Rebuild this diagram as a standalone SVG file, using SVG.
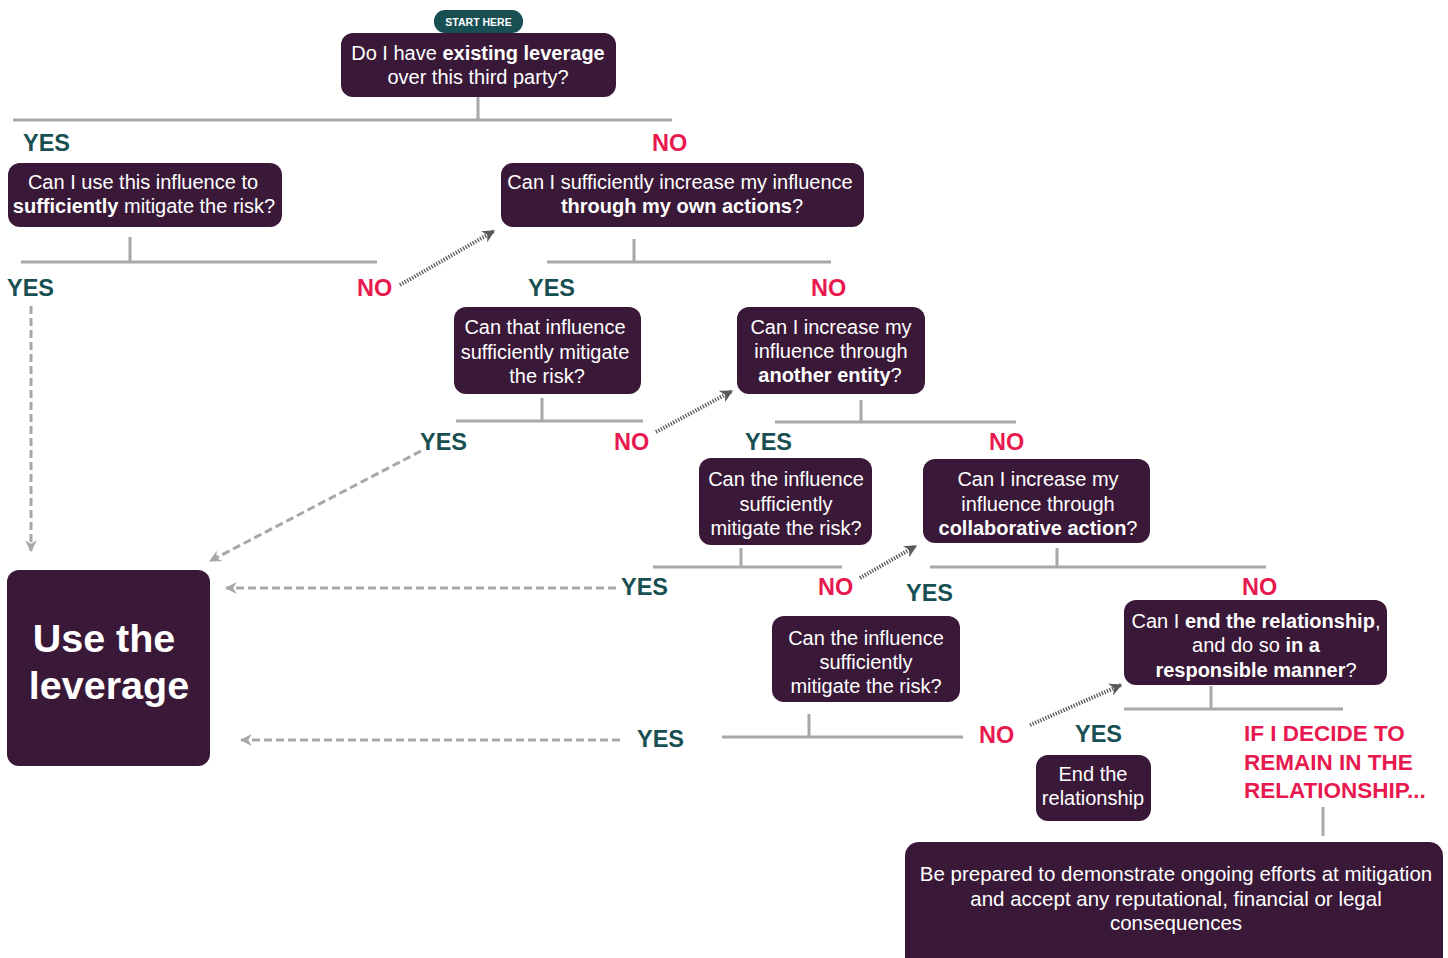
<svg xmlns="http://www.w3.org/2000/svg" width="1448" height="958" viewBox="0 0 1448 958">
<style>
.node{fill:#3a1838;}
.t{font-family:"Liberation Sans",Arial,sans-serif;font-size:20px;fill:#ffffff;text-anchor:middle;}
.b{font-weight:bold;}
.yes{font-family:"Liberation Sans",Arial,sans-serif;font-size:23.5px;font-weight:bold;fill:#174f52;}
.no{font-family:"Liberation Sans",Arial,sans-serif;font-size:23.5px;font-weight:bold;fill:#e8194f;}
.rem{font-family:"Liberation Sans",Arial,sans-serif;font-size:22.5px;font-weight:bold;fill:#e8194f;}
.br{stroke:#a8a8aa;stroke-width:3;fill:none;}
.dash{stroke:#a8a8aa;stroke-width:3;fill:none;stroke-dasharray:8 4;}
.dot{stroke:#5a5a5c;stroke-width:4;fill:none;stroke-dasharray:1.3 1.5;}
</style>
<defs>
<marker id="ag" viewBox="0 0 10 10" refX="9" refY="5" markerWidth="4" markerHeight="4" orient="auto" markerUnits="strokeWidth">
<path d="M0,0 L10,5 L0,10 L3,5 z" fill="#a8a8aa"/>
</marker>
<marker id="ad" viewBox="0 0 10 10" refX="9" refY="5" markerWidth="3.2" markerHeight="3.2" orient="auto" markerUnits="strokeWidth">
<path d="M0,0 L10,5 L0,10 L3,5 z" fill="#5a5a5c"/>
</marker>
</defs>

<g id="connectors">
<path class="br" d="M478,97 V120 M13,120 H672"/>
<path class="br" d="M130,237 V262 M21,262 H377"/>
<path class="br" d="M634,239 V262 M547,262 H831"/>
<path class="br" d="M542,398 V421 M456,421 H643"/>
<path class="br" d="M861,400 V422 M775,422 H1016"/>
<path class="br" d="M741,548 V567 M653,567 H842"/>
<path class="br" d="M1057,548 V567 M930,567 H1266"/>
<path class="br" d="M809,714 V737 M722,737 H963"/>
<path class="br" d="M1211,686 V709 M1124,709 H1343"/>
<path class="br" d="M1323,807 V836"/>
<path class="dash" d="M31,306 V551" marker-end="url(#ag)"/>
<path class="dash" d="M421,451 L210,561" marker-end="url(#ag)"/>
<path class="dash" d="M616,588 H226" marker-end="url(#ag)"/>
<path class="dash" d="M620,740 H241" marker-end="url(#ag)"/>
<path class="dot" d="M400,285 L494,231" marker-end="url(#ad)"/>
<path class="dot" d="M656,432 L732,391" marker-end="url(#ad)"/>
<path class="dot" d="M860,578 L916,546" marker-end="url(#ad)"/>
<path class="dot" d="M1030,725 L1121,685" marker-end="url(#ad)"/>
</g>

<g id="labels">
<text class="yes" x="23" y="151">YES</text>
<text class="no" x="652" y="151">NO</text>
<text class="yes" x="7" y="296">YES</text>
<text class="no" x="357" y="296">NO</text>
<text class="yes" x="528" y="296">YES</text>
<text class="no" x="811" y="296">NO</text>
<text class="yes" x="420" y="450">YES</text>
<text class="no" x="614" y="450">NO</text>
<text class="yes" x="745" y="450">YES</text>
<text class="no" x="989" y="450">NO</text>
<text class="yes" x="621" y="595">YES</text>
<text class="no" x="818" y="595">NO</text>
<text class="yes" x="906" y="601">YES</text>
<text class="no" x="1242" y="595">NO</text>
<text class="yes" x="637" y="747">YES</text>
<text class="no" x="979" y="743">NO</text>
<text class="yes" x="1075" y="742">YES</text>
<text class="rem" x="1244" y="741">IF I DECIDE TO</text>
<text class="rem" x="1244" y="770">REMAIN IN THE</text>
<text class="rem" x="1244" y="798">RELATIONSHIP...</text>
</g>

<g id="start">
<rect x="434" y="10" width="89" height="23" rx="11" fill="#174f52"/>
<text x="478.5" y="25.5" font-family="Liberation Sans,Arial,sans-serif" font-size="10.5" font-weight="bold" fill="#ffffff" text-anchor="middle">START HERE</text>
</g>

<g id="n1">
<rect class="node" x="341" y="33" width="275" height="64" rx="12"/>
<text class="t" x="478" y="60">Do I have <tspan class="b">existing leverage</tspan></text>
<text class="t" x="478" y="84">over this third party?</text>
</g>

<g id="n2">
<rect class="node" x="8" y="163" width="274" height="64" rx="12"/>
<text class="t" x="143" y="189">Can I use this influence to</text>
<text class="t" x="144" y="213"><tspan class="b">sufficiently</tspan> mitigate the risk?</text>
</g>

<g id="n3">
<rect class="node" x="501" y="163" width="363" height="64" rx="12"/>
<text class="t" x="680" y="189">Can I sufficiently increase my influence</text>
<text class="t" x="682" y="213"><tspan class="b">through my own actions</tspan>?</text>
</g>

<g id="n4">
<rect class="node" x="454" y="307" width="187" height="87" rx="12"/>
<text class="t" x="545" y="334">Can that influence</text>
<text class="t" x="545" y="359">sufficiently mitigate</text>
<text class="t" x="547" y="383">the risk?</text>
</g>

<g id="n5">
<rect class="node" x="737" y="307" width="188" height="87" rx="12"/>
<text class="t" x="831" y="334">Can I increase my</text>
<text class="t" x="831" y="358">influence through</text>
<text class="t" x="830" y="382"><tspan class="b">another entity</tspan>?</text>
</g>

<g id="n6">
<rect class="node" x="699" y="458" width="173" height="87" rx="12"/>
<text class="t" x="786" y="486">Can the influence</text>
<text class="t" x="786" y="511">sufficiently</text>
<text class="t" x="786" y="535">mitigate the risk?</text>
</g>

<g id="n7">
<rect class="node" x="923" y="459" width="227" height="84" rx="12"/>
<text class="t" x="1038" y="486">Can I increase my</text>
<text class="t" x="1038" y="511">influence through</text>
<text class="t" x="1038" y="535"><tspan class="b">collaborative action</tspan>?</text>
</g>

<g id="n8">
<rect class="node" x="772" y="616" width="188" height="86" rx="12"/>
<text class="t" x="866" y="645">Can the influence</text>
<text class="t" x="866" y="669">sufficiently</text>
<text class="t" x="866" y="693">mitigate the risk?</text>
</g>

<g id="n9">
<rect class="node" x="1124" y="600" width="263" height="85" rx="12"/>
<text class="t" x="1256" y="628">Can I <tspan class="b">end the relationship</tspan>,</text>
<text class="t" x="1256" y="652">and do so <tspan class="b">in a</tspan></text>
<text class="t" x="1256" y="677"><tspan class="b">responsible manner</tspan>?</text>
</g>

<g id="n10">
<rect class="node" x="1036" y="755" width="115" height="66" rx="12"/>
<text class="t" x="1093" y="781">End the</text>
<text class="t" x="1093" y="805">relationship</text>
</g>

<g id="n11">
<rect class="node" x="905" y="842" width="538" height="130" rx="14"/>
<text class="t" x="1176" y="881" style="font-size:20.5px">Be prepared to demonstrate ongoing efforts at mitigation</text>
<text class="t" x="1176" y="906" style="font-size:20.5px">and accept any reputational, financial or legal</text>
<text class="t" x="1176" y="930" style="font-size:20.5px">consequences</text>
</g>

<g id="use">
<rect class="node" x="7" y="570" width="203" height="196" rx="12"/>
<text x="104" y="652" font-family="Liberation Sans,Arial,sans-serif" font-size="39.5" font-weight="bold" fill="#ffffff" text-anchor="middle">Use the</text>
<text x="109" y="699" font-family="Liberation Sans,Arial,sans-serif" font-size="39.5" font-weight="bold" fill="#ffffff" text-anchor="middle">leverage</text>
</g>
</svg>
